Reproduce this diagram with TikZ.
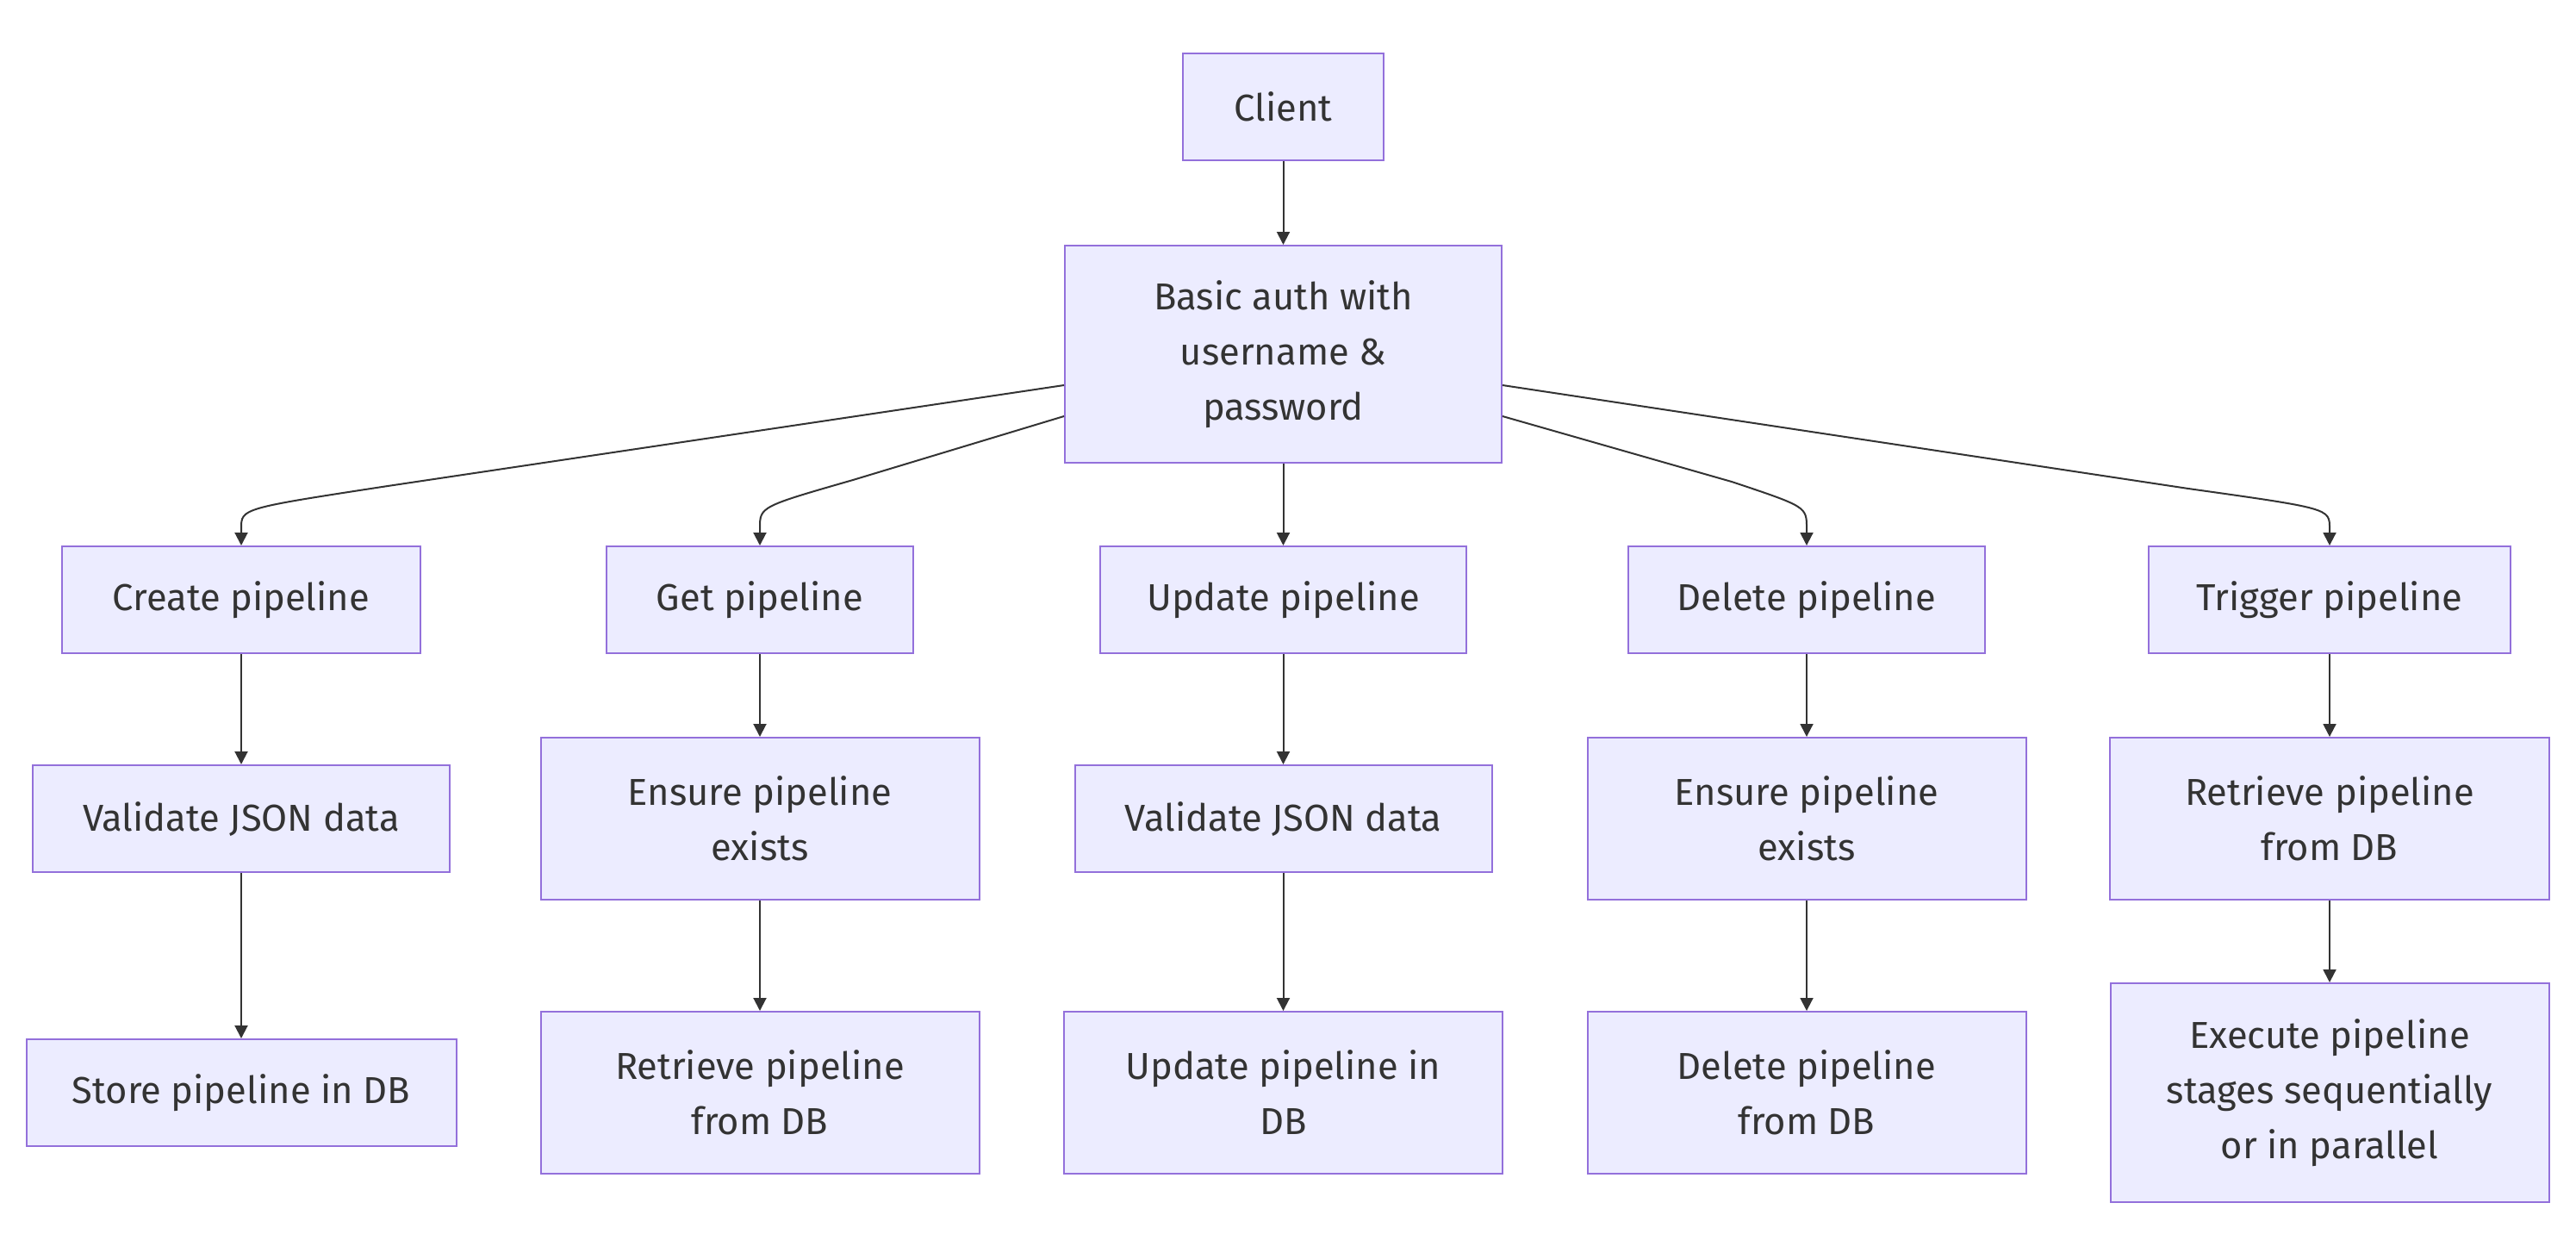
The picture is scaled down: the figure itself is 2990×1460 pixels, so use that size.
\documentclass[tikz,border=0pt]{standalone}
\usepackage{fontspec}
\setmainfont{Fira Sans}
\usetikzlibrary{arrows.meta}
\definecolor{boxfill}{HTML}{ECECFF}
\definecolor{boxline}{HTML}{9370DB}
\definecolor{ink}{HTML}{333333}
\begin{document}
\begin{tikzpicture}[x=1pt,y=-1pt,
  box/.style={draw=boxline, fill=boxfill, line width=2pt, text=ink, align=center,
              font=\fontsize{43.5}{64}\selectfont, inner sep=0pt},
  edge/.style={draw=ink, line width=2pt, -{Triangle[length=15pt,width=15pt]}}]
\useasboundingbox (0,0) rectangle (2990,1460);
% top
\node[box, minimum width=233pt, minimum height=124pt] (client) at (1489.5,124) {Client};
\node[box, minimum width=507pt, minimum height=252pt] (auth) at (1489.5,411) {Basic auth with\\username \&\\password};
% row 2
\node[box, minimum width=416pt, minimum height=124pt] (create) at (280,696) {Create pipeline};
\node[box, minimum width=356pt, minimum height=124pt] (get) at (882,696) {Get pipeline};
\node[box, minimum width=425pt, minimum height=124pt] (update) at (1489.5,696) {Update pipeline};
\node[box, minimum width=414pt, minimum height=124pt] (delete) at (2097,696) {Delete pipeline};
\node[box, minimum width=420pt, minimum height=124pt] (trigger) at (2704,696) {Trigger pipeline};
% row 3
\node[box, minimum width=484pt, minimum height=124pt] (valA) at (280,950) {Validate JSON data};
\node[box, minimum width=509pt, minimum height=188pt] (ensA) at (882,950) {Ensure pipeline\\exists};
\node[box, minimum width=484pt, minimum height=124pt] (valB) at (1489.5,950) {Validate JSON data};
\node[box, minimum width=509pt, minimum height=188pt] (ensB) at (2097,950) {Ensure pipeline\\exists};
\node[box, minimum width=510pt, minimum height=188pt] (retB) at (2704,950) {Retrieve pipeline\\from DB};
% row 4
\node[box, minimum width=499pt, minimum height=124pt] (store) at (280,1268) {Store pipeline in DB};
\node[box, minimum width=509pt, minimum height=188pt] (retA) at (882,1268) {Retrieve pipeline\\from DB};
\node[box, minimum width=509pt, minimum height=188pt] (updb) at (1489.5,1268) {Update pipeline in\\DB};
\node[box, minimum width=509pt, minimum height=188pt] (deldb) at (2097,1268) {Delete pipeline\\from DB};
\node[box, minimum width=509pt, minimum height=254pt] (exec) at (2704,1268) {Execute pipeline\\stages sequentially\\or in parallel};
% helper rows for the bends
\coordinate (yend) at (0,613);
\coordinate (yctlA) at (0,590);
\coordinate (yctlB) at (0,588);
\coordinate (bendCreate) at (450,564);
\coordinate (bendGet) at (990,557);
\coordinate (bendDelete) at (2010,559);
\coordinate (bendTrigger) at (2540,567);
% edges
\draw[edge] (client.south) -- (auth.north);
\draw[edge] ([yshift=-36pt]auth.west) -- (bendCreate) .. controls (create.north |- yctlA) .. (create.north |- yend) -- (create.north);
\draw[edge] ([yshift=-72pt]auth.west) -- (bendGet) .. controls (get.north |- yctlB) .. (get.north |- yend) -- (get.north);
\draw[edge] (auth.south) -- (update.north);
\draw[edge] ([yshift=-72pt]auth.east) -- (bendDelete) .. controls (delete.north |- yctlB) .. (delete.north |- yend) -- (delete.north);
\draw[edge] ([yshift=-36pt]auth.east) -- (bendTrigger) .. controls (trigger.north |- yctlA) .. (trigger.north |- yend) -- (trigger.north);
\draw[edge] (create.south) -- (valA.north);
\draw[edge] (valA.south) -- (store.north);
\draw[edge] (get.south) -- (ensA.north);
\draw[edge] (ensA.south) -- (retA.north);
\draw[edge] (update.south) -- (valB.north);
\draw[edge] (valB.south) -- (updb.north);
\draw[edge] (delete.south) -- (ensB.north);
\draw[edge] (ensB.south) -- (deldb.north);
\draw[edge] (trigger.south) -- (retB.north);
\draw[edge] (retB.south) -- (exec.north);
\end{tikzpicture}
\end{document}
